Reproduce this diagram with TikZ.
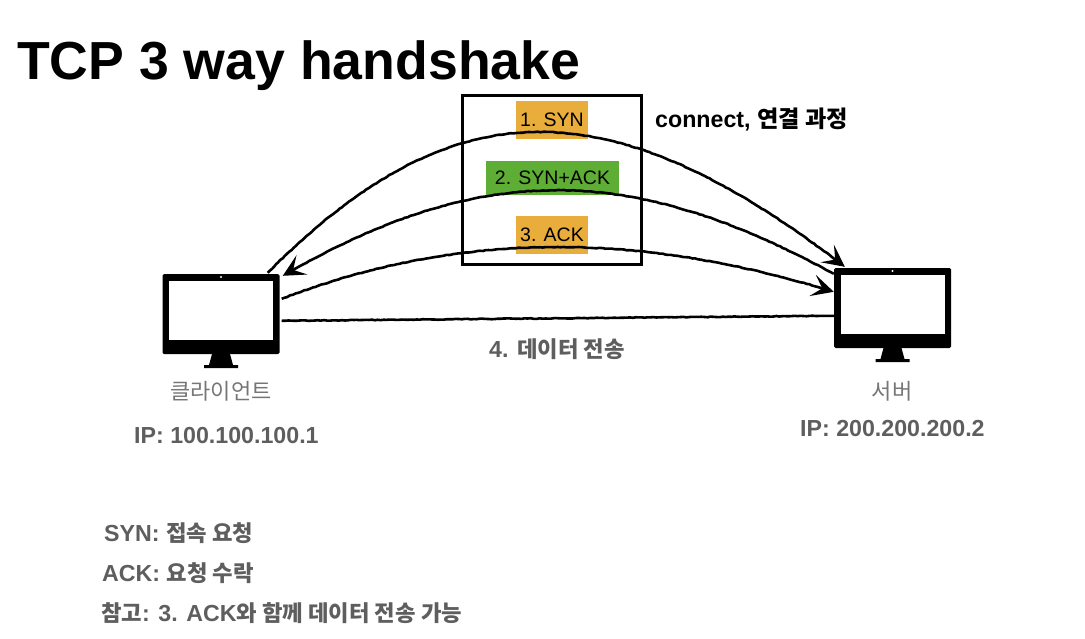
\documentclass[tikz,border=0pt]{standalone}
\usepackage{fontspec}
\setmainfont{Liberation Sans}
\newfontfamily\kr{Noto Sans CJK KR}
\newfontfamily\krs[Scale=0.96]{Noto Sans CJK KR}
\usetikzlibrary{arrows.meta,decorations.pathmorphing}
\definecolor{synorange}{RGB}{233,173,60}
\definecolor{ackgreen}{RGB}{94,173,53}
\definecolor{txtgray}{RGB}{94,94,94}
\definecolor{kogray}{RGB}{118,118,118}

\begin{document}
\begin{tikzpicture}[x=1pt,y=-1pt,
  lbl/.style     ={inner sep=0pt, anchor=base west, font=\fontsize{23.2}{26}\selectfont\bfseries},
  note/.style    ={lbl, text=txtgray},
  flag/.style    ={inner sep=0pt, minimum height=38pt, font=\fontsize{19.5}{22}\selectfont},
  monitor/.style ={fill=black, rounded corners=1.5pt, minimum width=117pt, minimum height=80pt, inner sep=0pt},
  pencil/.style  ={line width=2.6pt, decorate,
                   decoration={random steps, segment length=3pt, amplitude=0.35pt, pre length=3pt, post length=18pt}},
  tip/.style     ={-{Stealth[length=22pt, width=22pt, inset=10pt]}}]

  \useasboundingbox (0,0) rectangle (1085,638);

  % ---------------- title ----------------
  \node[lbl,font=\fontsize{53.6}{58}\selectfont\bfseries] (title) at (17,79) {TCP 3 way handshake};

  % ---------------- handshake box ----------------
  \node[draw=black, line width=2.4pt, minimum width=179pt, minimum height=169pt, inner sep=0pt] (box) at (552,180) {};
  \node[flag,fill=synorange,minimum width=72pt] (syn) at (552,120) {1. SYN};
  \node[flag,fill=ackgreen,minimum width=133pt,minimum height=34pt] (synack) at (552.5,178) {2. SYN+ACK};
  \node[flag,fill=synorange,minimum width=72pt] (ack) at (552,235) {3. ACK};
  \node[lbl] (connect) at (655,127) {connect, {\kr 연결 과정}};

  % ---------------- client and server ----------------
  \foreach \mon/\cx/\cy in {client/221/314, server/892.5/308}{
    \node[monitor] (\mon) at (\cx,\cy) {};
    \begin{scope}[shift={(\cx,\cy)}]
      \fill[white] (-52,-33) rectangle (52,26);                     % screen
      \fill[white] (0,-37) circle (1.1);                            % camera
      \fill[black] (-9,40) -- (9,40) -- (12,51) -- (17,51)
                   -- (17,54) -- (-17,54) -- (-17,51) -- (-12,51) -- cycle;  % stand
    \end{scope}
  }

  % ---------------- handshake arrows ----------------
  \draw[pencil,tip] ([xshift=-12pt,yshift=1pt]client.north east) .. controls (453,86) and (610,86) .. ([xshift=11pt,yshift=1pt]server.north west);
  \draw[pencil,tip] ([yshift=-6pt]server.north west) .. controls (629,162) and (480,162) .. ([xshift=3pt,yshift=-2pt]client.north east);
  \draw[pencil,tip] ([xshift=2pt,yshift=-25pt]client.north east) .. controls (459,231) and (636,231) .. ([yshift=-24pt]server.north west);
  \draw[pencil] ([xshift=2pt,yshift=-47pt]client.north east) -- ([yshift=-48pt]server.north west);

  % ---------------- labels ----------------
  \node[note] (data) at (489,357) {4. {\krs 데이터 전송}};
  \node[inner sep=0pt,text=kogray,font=\fontsize{22}{24}\selectfont\kr] (clientname) at (221,391) {클라이언트};
  \node[inner sep=0pt,text=kogray,font=\fontsize{22}{24}\selectfont\kr] (servername) at (892,391) {서버};
  \node[note] (clientip) at (134,443) {IP: 100.100.100.1};
  \node[note] (serverip) at (800,436) {IP: 200.200.200.2};

  % ---------------- notes ----------------
  \node[note] (synnote) at (104,541) {SYN: {\krs 접속 요청}};
  \node[note] (acknote) at (102,581) {ACK: {\krs 요청 수락}};
  \node[note] (refnote) at (101,621) {{\krs 참고}: 3. ACK{\krs 와 함께 데이터 전송 가능}};
\end{tikzpicture}
\end{document}
